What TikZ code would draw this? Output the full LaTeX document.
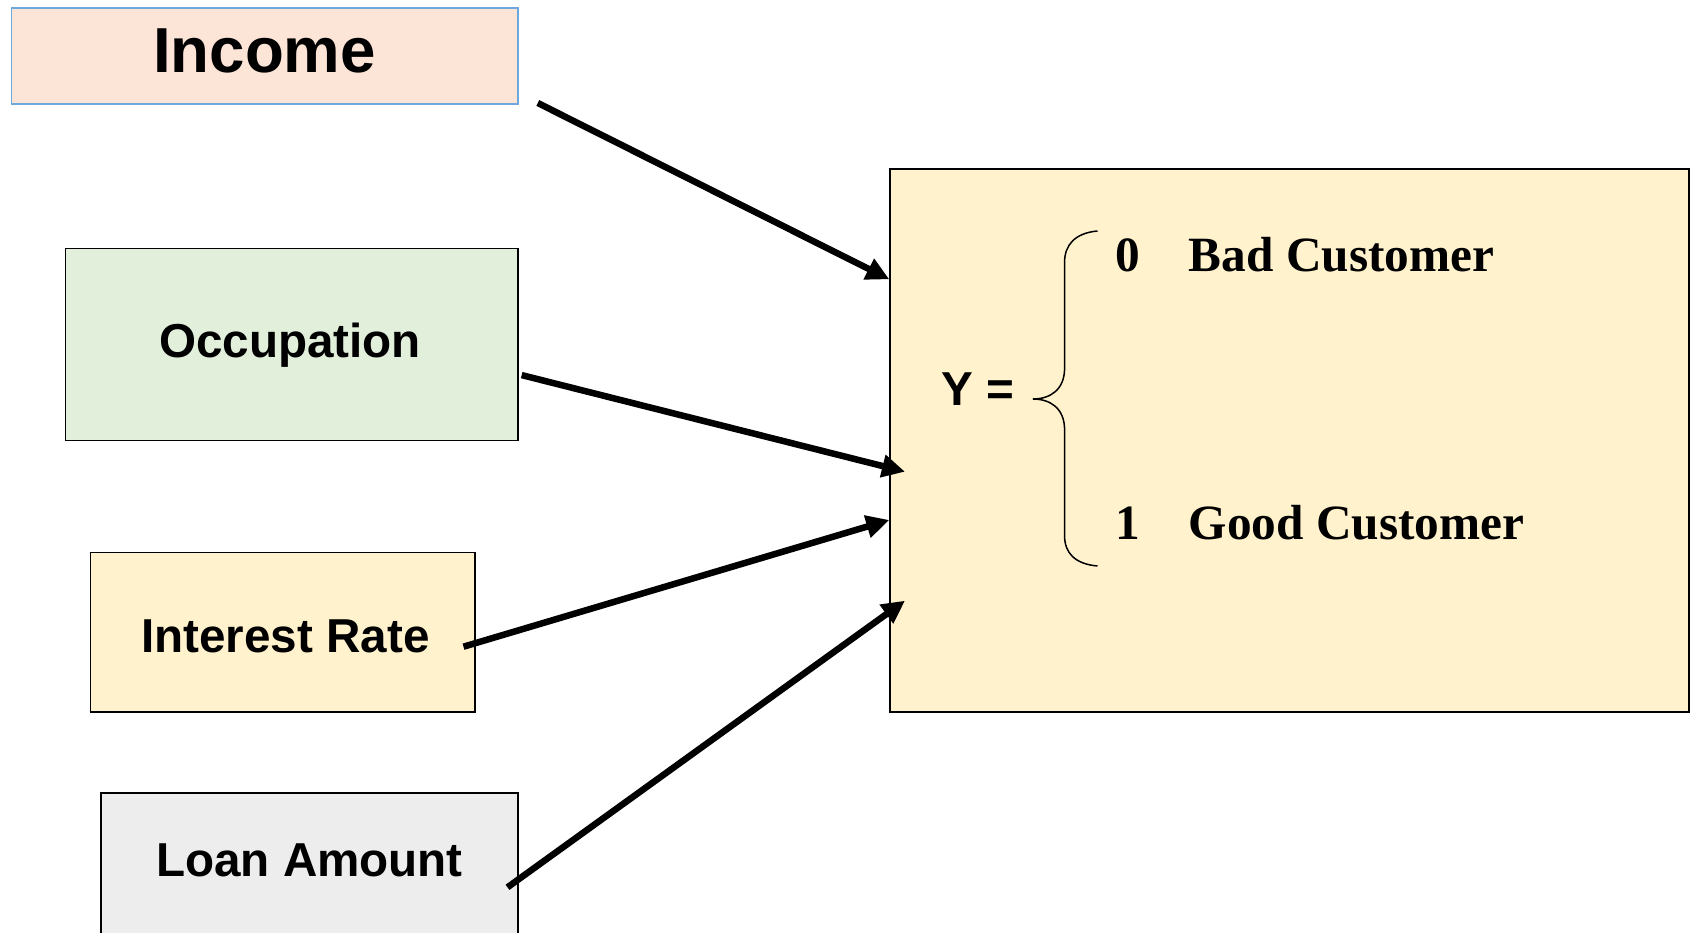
\documentclass[tikz,border=0pt]{standalone}
\usepackage{fontspec}
\setmainfont{Liberation Serif}
\newfontfamily\arialfont{Liberation Sans}
\usetikzlibrary{arrows.meta}
\definecolor{incomefill}{HTML}{FCE4D6}
\definecolor{incomeline}{HTML}{6FA8DC}
\definecolor{occfill}{HTML}{E2EFDA}
\definecolor{ratefill}{HTML}{FFF2CC}
\definecolor{loanfill}{HTML}{EDEDED}
\begin{document}
\begin{tikzpicture}[x=1pt,y=-1pt,
  box/.style={draw=black,line width=1.5pt,inner sep=0pt,anchor=north west},
  sanslabel/.style={font={\arialfont\bfseries\fontsize{47.6}{54}\selectfont},inner sep=0pt,anchor=base},
  seriflabel/.style={font={\bfseries\fontsize{49.3}{56}\selectfont},inner sep=0pt,anchor=base west},
  link/.style={line width=6.5pt,-{Triangle[length=23pt,width=22pt]}},
  brace/.style={line width=1.5pt}]
\clip (0,0) rectangle (1690,933);

% input boxes
\node[box,draw=incomeline,fill=incomefill,minimum width=506.5pt,minimum height=96pt] (income) at (10.8,7.5) {};
\node[box,fill=occfill,minimum width=452.6pt,minimum height=191.8pt] (occ) at (64.7,247.9) {};
\node[box,fill=ratefill,minimum width=384.7pt,minimum height=159.5pt] (rate) at (89.5,551.8) {};
\node[box,fill=loanfill,minimum width=417.1pt,minimum height=160pt] (loan) at (100.2,792.2) {};

% outcome box
\node[box,line width=2pt,fill=ratefill,minimum width=799pt,minimum height=543.2pt] (outcome) at (889.2,168.1) {};

% labels
\node[sanslabel,font={\arialfont\bfseries\fontsize{63.6}{70}\selectfont}] (incomeText) at (264.5,72.4) {Income};
\node[sanslabel] (occText) at (290,357.4) {Occupation};
\node[sanslabel] (rateText) at (285.5,652.7) {Interest Rate};
\node[sanslabel] (loanText) at (309.5,876) {Loan Amount};

\node[sanslabel,anchor=base west] (yText) at (941.5,405.2) {Y =};
\node[seriflabel] (zeroText) at (1115,271.4) {0};
\node[seriflabel] (badText) at (1188.7,271.4) {Bad Customer};
\node[seriflabel] (oneText) at (1115,539.4) {1};
\node[seriflabel] (goodText) at (1188.7,539.4) {Good Customer};

% curly brace
\draw[brace] (1097.5,231) .. controls (1075,233) and (1064.6,245) .. (1064.6,262)
  -- (1064.6,368) .. controls (1064.6,390) and (1050,399) .. (1032.8,399)
  .. controls (1050,399) and (1064.6,408) .. (1064.6,430)
  -- (1064.6,536) .. controls (1064.6,553) and (1075,564) .. (1097.5,566);

% connector end points
\coordinate (incomeOut) at (537.8,103);
\coordinate (occOut) at (521.7,375.1);
\coordinate (rateOut) at (463.5,646.7);
\coordinate (loanOut) at (507.5,887.3);
\coordinate (inA) at (889.3,279.3);
\coordinate (inB) at (905,471.7);
\coordinate (inC) at (889.3,520);
\coordinate (inD) at (905,600.7);

\draw[link] (incomeOut) -- (inA);
\draw[link] (occOut) -- (inB);
\draw[link] (rateOut) -- (inC);
\draw[link] (loanOut) -- (inD);
\end{tikzpicture}
\end{document}
